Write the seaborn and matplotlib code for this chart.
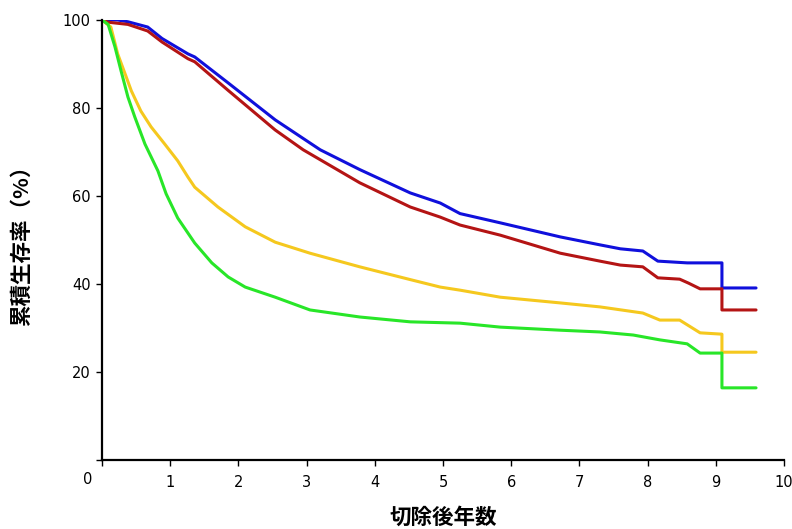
import matplotlib
matplotlib.use("Agg")
import matplotlib.pyplot as plt
import seaborn as sns
import pandas as pd

# ---- data (years after resection, cumulative survival %) ----
blue_x = [0, 0.23, 0.38, 0.67, 0.88, 1.26, 1.36, 1.85, 2.54, 3.2, 3.78, 4.52, 4.96, 5.25,
          5.84, 6.72, 7.3, 7.6, 7.93, 8.15, 8.58, 9.09, 9.09, 9.59]
blue_y = [100, 100, 99.6, 98.4, 95.8, 92.3, 91.6, 85.7, 77.3, 70.5, 66, 60.7, 58.4, 56,
          53.9, 50.7, 48.9, 48.0, 47.5, 45.2, 44.8, 44.8, 39.1, 39.1]

red_x = [0, 0.09, 0.38, 0.67, 0.88, 1.26, 1.36, 1.85, 2.54, 2.95, 3.78, 4.52, 4.96, 5.25,
         5.84, 6.72, 7.3, 7.6, 7.93, 8.15, 8.47, 8.6, 8.77, 9.09, 9.09, 9.59]
red_y = [100, 99.5, 99, 97.5, 95.0, 91.2, 90.5, 84, 75, 70.5, 63, 57.5, 55.2, 53.4,
         51.1, 47, 45.2, 44.3, 43.9, 41.4, 41.1, 40.2, 38.9, 38.9, 34.1, 34.1]

yellow_x = [0, 0.13, 0.23, 0.34, 0.43, 0.57, 0.72, 0.92, 1.11, 1.26, 1.36, 1.7, 2.1, 2.54,
            3.05, 3.78, 4.52, 4.96, 5.25, 5.84, 6.72, 7.3, 7.93, 8.18, 8.47, 8.77, 9.09,
            9.09, 9.59]
yellow_y = [100, 98.4, 92.3, 87.7, 83.9, 79.3, 75.7, 71.8, 68, 64.3, 62, 57.5, 53, 49.5,
            47, 43.9, 41, 39.3, 38.6, 37, 35.7, 34.8, 33.4, 31.8, 31.8, 28.9, 28.6,
            24.5, 24.5]

green_x = [0, 0.09, 0.19, 0.28, 0.38, 0.48, 0.63, 0.82, 0.94, 1.11, 1.36, 1.61, 1.85, 2.1,
           2.54, 3.05, 3.78, 4.52, 5.25, 5.84, 6.72, 7.3, 7.79, 8.18, 8.58, 8.77, 9.09,
           9.09, 9.59]
green_y = [100, 99, 93.9, 88.4, 82.5, 78, 71.8, 65.7, 60.5, 55, 49.3, 44.8, 41.6, 39.3,
           37, 34.1, 32.5, 31.4, 31.1, 30.2, 29.5, 29.1, 28.4, 27.3, 26.4, 24.3, 24.3,
           16.4, 16.4]

series_names = ["A", "B", "C", "D"]
series_colors = ["#1010DC", "#B41414", "#F5C81E", "#28E628"]

x_ticks = [0, 1, 2, 3, 4, 5, 6, 7, 8, 9, 10]
y_ticks = [0, 20, 40, 60, 80, 100]
y_tick_labels = ["", "20", "40", "60", "80", "100"]
x_label = "切除後年数"
y_label = "累積生存率（%）"

frames = []
for name, xs, ys in zip(series_names, [blue_x, red_x, yellow_x, green_x],
                        [blue_y, red_y, yellow_y, green_y]):
    frames.append(pd.DataFrame({"year": xs, "surv": ys, "group": name}))
df = pd.concat(frames, ignore_index=True)

sns.set_theme(style="white")
plt.rcParams["font.family"] = ["Noto Sans CJK JP", "DejaVu Sans"]

fig = plt.figure(figsize=(7.92, 5.29), dpi=100)
ax = fig.add_axes([102 / 792, 1 - 460 / 529, 682 / 792, 440 / 529])

sns.lineplot(data=df, x="year", y="surv", hue="group", hue_order=series_names,
             palette=dict(zip(series_names, series_colors)), estimator=None,
             sort=False, units="group", legend=False, linewidth=2.2, ax=ax)

ax.set_xlim(0, 10)
ax.set_ylim(0, 100)
ax.set_xticks(x_ticks)
ax.set_xticklabels([""] + [str(t) for t in x_ticks[1:]])
ax.set_yticks(y_ticks)
ax.set_yticklabels(y_tick_labels)

for s in ["top", "right"]:
    ax.spines[s].set_visible(False)
for s in ["left", "bottom"]:
    ax.spines[s].set_color("black")
    ax.spines[s].set_linewidth(1.6)

ax.tick_params(axis="both", which="major", direction="out", length=4, width=1,
               color="black", labelsize=10.5, labelcolor="black")
ax.tick_params(axis="x", pad=7, bottom=True)
ax.tick_params(axis="y", pad=4, left=True)
for lab in ax.get_xticklabels() + ax.get_yticklabels():
    lab.set_family("DejaVu Sans")

ax.annotate("0", xy=(0, 0), xytext=(-14, -20), textcoords="offset pixels",
            ha="center", va="center", fontsize=10.5, color="black",
            family="DejaVu Sans")

ax.set_xlabel(x_label, fontsize=15.5, fontweight="bold", labelpad=12, color="black")
ax.set_ylabel(y_label, fontsize=15.5, fontweight="bold", labelpad=22, color="black")

fig.savefig("out.png", dpi=100, facecolor="white")
